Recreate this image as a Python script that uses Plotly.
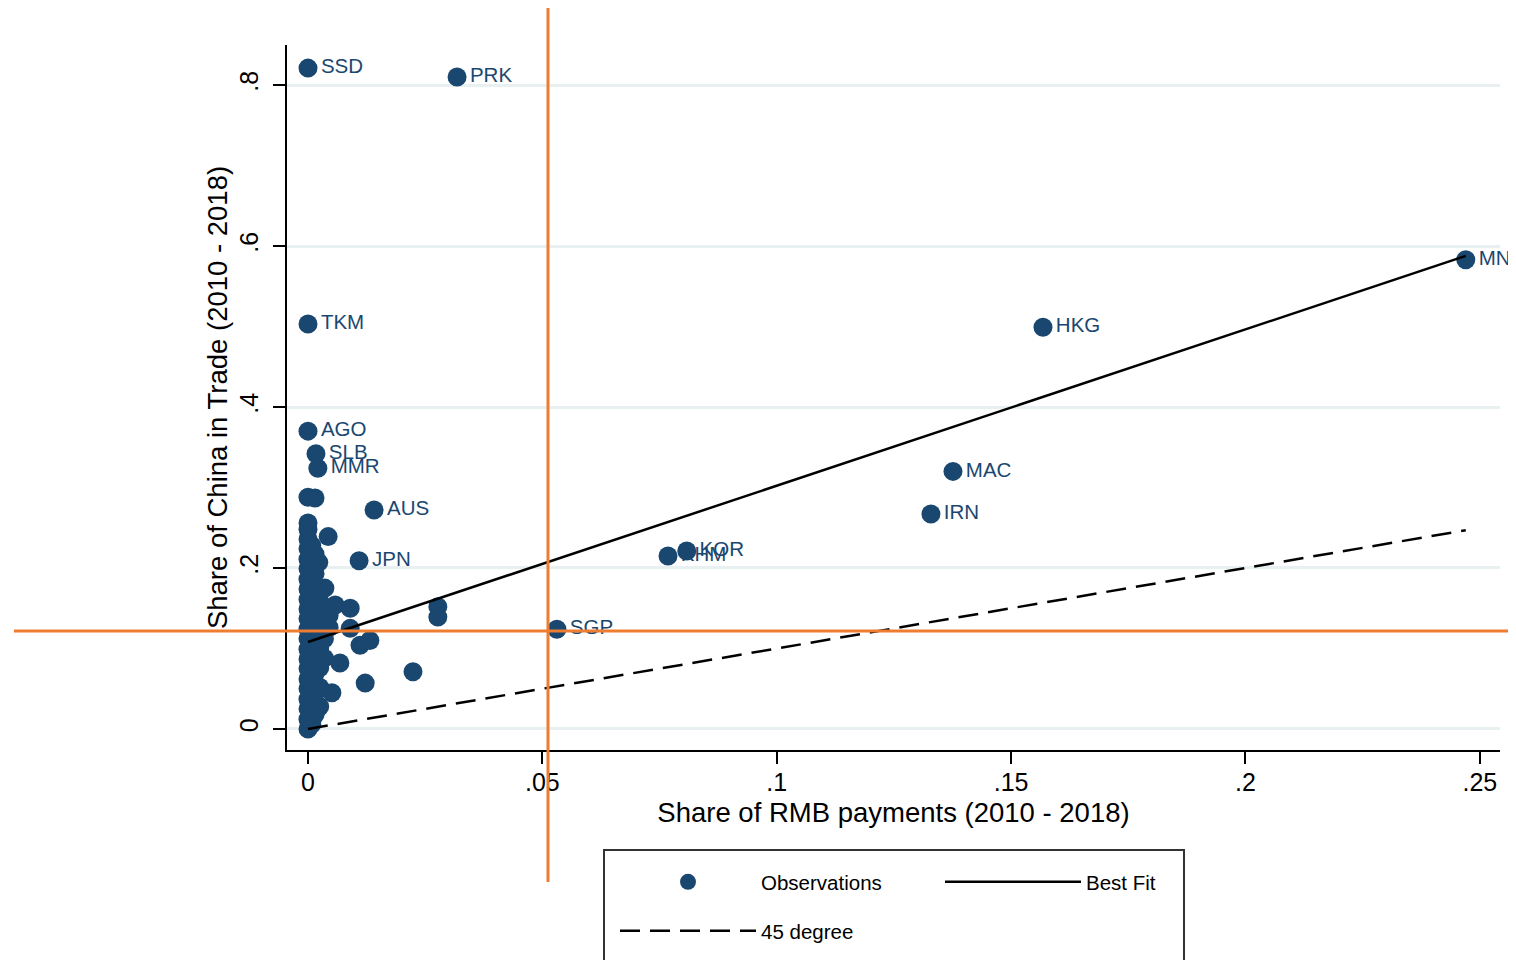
import plotly.graph_objects as go

# ---- data ----
label_codes = ["SSD", "PRK", "TKM", "AGO", "SLB", "MMR", "AUS", "JPN", "SGP",
               "KHM", "KOR", "IRN", "MAC", "HKG", "MNG"]
label_x = [0.0000, 0.0318, 0.0000, 0.0000, 0.0017, 0.0021, 0.0141, 0.0109, 0.0531,
           0.0768, 0.0808, 0.1329, 0.1376, 0.1568, 0.2470]
label_y = [0.821, 0.810, 0.503, 0.370, 0.342, 0.324, 0.272, 0.209, 0.124,
           0.215, 0.221, 0.267, 0.320, 0.499, 0.583]

cluster_x = [
    0.0000, 0.0000, 0.0000, 0.0000, 0.0000, 0.0000, 0.0000, 0.0000, 0.0000, 0.0000, 0.0000,
    0.0000, 0.0000, 0.0000, 0.0000, 0.0000, 0.0000, 0.0000, 0.0000, 0.0000, 0.0000, 0.0000,
    0.0008, 0.0008, 0.0008, 0.0008, 0.0008, 0.0008, 0.0008, 0.0008, 0.0008, 0.0008,
    0.0015, 0.0015, 0.0015, 0.0015, 0.0015, 0.0015, 0.0015, 0.0015, 0.0015,
    0.0025, 0.0025, 0.0025, 0.0025, 0.0025, 0.0025, 0.0025,
    0.0035, 0.0035, 0.0035, 0.0035,
    0.0045, 0.0045,
    0.0000, 0.0015, 0.0043, 0.0023, 0.0036, 0.0058, 0.0090, 0.0277, 0.0277,
    0.0090, 0.0111, 0.0132, 0.0068, 0.0122, 0.0224, 0.0051, 0.0019,
]
cluster_y = [
    0.000, 0.012, 0.025, 0.037, 0.050, 0.062, 0.075, 0.087, 0.099, 0.112, 0.124,
    0.137, 0.149, 0.161, 0.174, 0.186, 0.199, 0.211, 0.224, 0.236, 0.248, 0.256,
    0.006, 0.031, 0.058, 0.083, 0.107, 0.131, 0.156, 0.181, 0.205, 0.228,
    0.018, 0.044, 0.069, 0.094, 0.118, 0.143, 0.168, 0.193, 0.217,
    0.028, 0.052, 0.076, 0.101, 0.121, 0.139, 0.158,
    0.088, 0.112, 0.131, 0.146,
    0.126, 0.141,
    0.288, 0.287, 0.239, 0.207, 0.175, 0.154, 0.150, 0.152, 0.139,
    0.125, 0.104, 0.110, 0.082, 0.057, 0.071, 0.045, 0.024,
]

fit_intercept = 0.108
fit_slope = 1.942

x_tick_vals = [0, 0.05, 0.1, 0.15, 0.2, 0.25]
x_tick_text = ["0", ".05", ".1", ".15", ".2", ".25"]
y_tick_vals = [0, 0.2, 0.4, 0.6, 0.8]
y_tick_text = ["0", ".2", ".4", ".6", ".8"]

ref_line_x = 0.0512   # orange vertical reference
ref_line_y = 0.1217   # orange horizontal reference

# ---- build ----
NAVY = "#1a476f"
ORANGE = "#ED7D31"
FONT = "Liberation Sans, Arial, sans-serif"

all_x = cluster_x + label_x
all_y = cluster_y + label_y
all_text = [""] * len(cluster_x) + label_codes

x_min, x_max = min(all_x), max(all_x)
line_x = [x_min, x_max]
fit_y = [fit_intercept + fit_slope * v for v in line_x]
deg_y = list(line_x)

fig = go.Figure()
fig.add_trace(go.Scatter(
    x=all_x, y=all_y, mode="markers+text", text=all_text,
    textposition="middle right",
    textfont=dict(family=FONT, size=20.5, color=NAVY),
    marker=dict(size=19, color=NAVY, line=dict(width=0)),
    name="Observations", cliponaxis=False, legend="legend",
))
fig.add_trace(go.Scatter(
    x=line_x, y=fit_y, mode="lines", line=dict(color="black", width=2.5),
    name="Best Fit", legend="legend",
))
fig.add_trace(go.Scatter(
    x=line_x, y=deg_y, mode="lines",
    line=dict(color="black", width=2.5, dash="20px,10px"),
    name="45 degree", legend="legend2",
))

# page body has an 8px margin; work in absolute window pixels
OFF = 8
PL, PR, PT, PB = 287, 1500, 45, 750      # plot area in window pixels
W, H = 1516 - OFF, 960 - OFF
pw, ph = PR - PL, PB - PT

def px(xp):
    return (xp - PL) / pw

def py(yp):
    return (PB - yp) / ph

fig.update_layout(
    width=W, height=H,
    margin=dict(l=PL - OFF, r=W - (PR - OFF), t=PT - OFF, b=H - (PB - OFF), pad=0,
                autoexpand=False),
    paper_bgcolor="white", plot_bgcolor="white",
    font=dict(family=FONT, color="black"),
    showlegend=True,
    legend=dict(orientation="h", x=px(615), xanchor="left", y=py(862), yanchor="top",
                font=dict(family=FONT, size=20.5, color="black"),
                itemwidth=136, entrywidth=174, entrywidthmode="pixels",
                borderwidth=0, bgcolor="rgba(0,0,0,0)"),
    legend2=dict(orientation="h", x=px(615), xanchor="left", y=py(911), yanchor="top",
                 font=dict(family=FONT, size=20.5, color="black"),
                 itemwidth=136, borderwidth=0, bgcolor="rgba(0,0,0,0)"),
    xaxis=dict(
        range=[-0.00448, 0.2543], showgrid=False, zeroline=False,
        showline=True, linecolor="black", linewidth=1.5,
        ticks="outside", ticklen=12, tickwidth=1.5, tickcolor="black",
        tickvals=x_tick_vals, ticktext=x_tick_text, ticklabelstandoff=-3,
        tickfont=dict(family=FONT, size=25, color="black"),
        title=dict(text="Share of RMB payments (2010 - 2018)",
                   font=dict(family=FONT, size=27.5, color="black"), standoff=8),
    ),
    yaxis=dict(
        range=[-0.0261, 0.8497], showgrid=True, gridcolor="#e8f0f2", gridwidth=2.5,
        zeroline=False, showline=True, linecolor="black", linewidth=1.5,
        ticks="outside", ticklen=12, tickwidth=1.5, tickcolor="black",
        tickvals=y_tick_vals, ticktext=y_tick_text, tickangle=-90,
        ticklabelstandoff=5,
        tickfont=dict(family=FONT, size=25, color="black"),
        title=dict(text="Share of China in Trade (2010 - 2018)",
                   font=dict(family=FONT, size=27.5, color="black"), standoff=0),
    ),
    shapes=[
        dict(type="rect", xref="paper", yref="paper", x0=px(604), x1=px(1184),
             y0=py(990), y1=py(850), line=dict(color="#333333", width=2),
             fillcolor="rgba(0,0,0,0)", layer="above"),
        dict(type="line", xref="x", yref="paper", x0=ref_line_x, x1=ref_line_x,
             y0=py(8), y1=py(882), line=dict(color=ORANGE, width=3), layer="above"),
        dict(type="line", xref="paper", yref="y", x0=px(14), x1=px(1516),
             y0=ref_line_y, y1=ref_line_y, line=dict(color=ORANGE, width=3), layer="above"),
    ],
)

fig.write_html("out.html")
